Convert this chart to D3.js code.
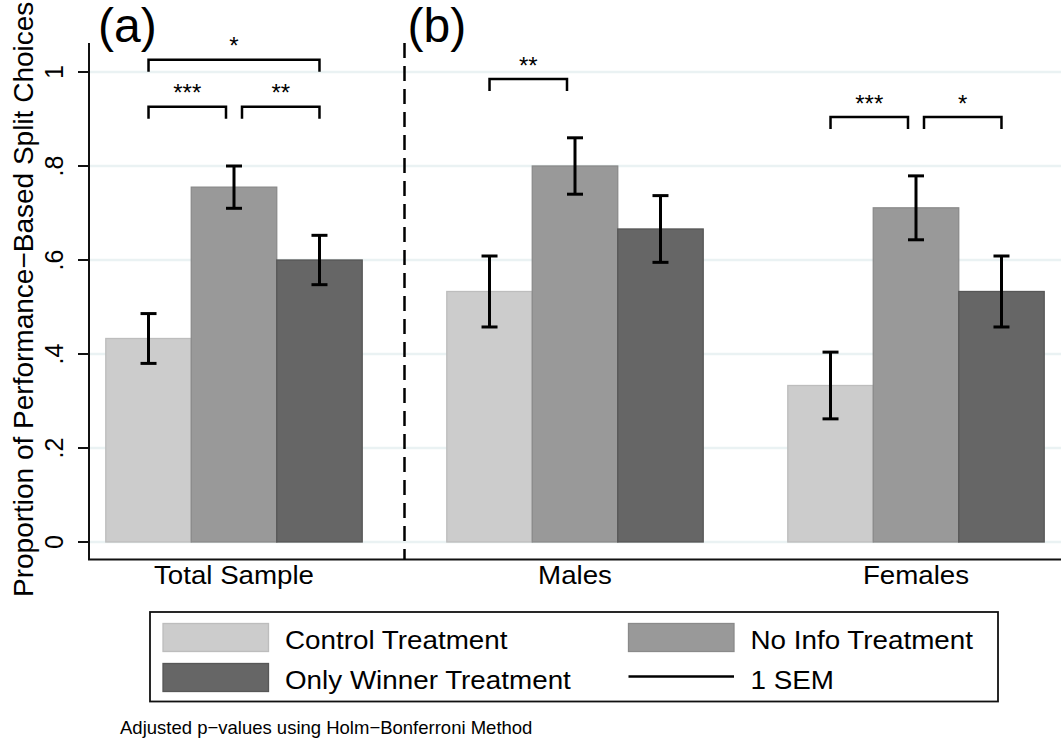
<!DOCTYPE html>
<html>
<head>
<meta charset="utf-8">
<script src="https://cdn.jsdelivr.net/npm/d3@7"></script>
<style>
  body { margin: 0; background: #fff; }
  text { font-family: "Liberation Sans", Arial, Helvetica, sans-serif; fill: #000; }
</style>
</head>
<body>
<div id="chart"></div>
<script>
// data
var groups = ["Total Sample", "Males", "Females"];
var series = ["Control Treatment", "No Info Treatment", "Only Winner Treatment"];
var control = [0.433, 0.533, 0.333];
var noInfo = [0.755, 0.800, 0.711];
var onlyWinner = [0.600, 0.666, 0.533];
var controlSem = [0.053, 0.0755, 0.071];
var noInfoSem = [0.045, 0.060, 0.068];
var onlyWinnerSem = [0.0525, 0.071, 0.0755];
var yTicks = [0, 0.2, 0.4, 0.6, 0.8, 1];
var yTickLabels = ["0", ".2", ".4", ".6", ".8", "1"];

// significance brackets (series index from -> to)
var bracketGroup = ["Total Sample", "Total Sample", "Total Sample", "Males", "Females", "Females"];
var bracketFrom = [0, 0, 1, 0, 0, 1];
var bracketTo = [2, 1, 2, 1, 1, 2];
var bracketLevel = [1.026, 0.926, 0.926, 0.985, 0.904, 0.904];
var bracketStars = ["*", "***", "**", "**", "***", "*"];

var fills = ["#cccccc", "#999999", "#666666"];
var strokes = ["#bdbdbd", "#8a8a8a", "#575757"];

var width = 1061, height = 744;
var values = [control, noInfo, onlyWinner];
var sems = [controlSem, noInfoSem, onlyWinnerSem];

var rows = [];
groups.forEach(function(g, gi) {
  series.forEach(function(s, si) {
    rows.push({group: g, series: s, si: si, value: values[si][gi], sem: sems[si][gi]});
  });
});

var svg = d3.select("#chart").append("svg")
    .attr("width", width)
    .attr("height", height);

svg.append("rect").attr("width", width).attr("height", height).attr("fill", "#fff");

var x0 = d3.scaleBand()
    .domain(groups)
    .range([63.5, 1086.5])
    .paddingInner(0.248)
    .paddingOuter(0.124);

var x1 = d3.scaleBand()
    .domain(series)
    .range([0, x0.bandwidth()]);

var y = d3.scaleLinear().domain([0, 1]).range([542, 72]);

var axisLeft = 89, plotTop = 43, plotBottom = 559.5, plotRight = 1061;

// gridlines
svg.append("g")
  .selectAll("line")
  .data(yTicks)
  .join("line")
    .attr("x1", axisLeft)
    .attr("x2", plotRight)
    .attr("y1", d => y(d))
    .attr("y2", d => y(d))
    .attr("stroke", "#eaf2f3")
    .attr("stroke-width", 2.5);

// bars
svg.append("g")
  .selectAll("rect")
  .data(rows)
  .join("rect")
    .attr("x", d => x0(d.group) + x1(d.series))
    .attr("y", d => y(d.value))
    .attr("width", x1.bandwidth())
    .attr("height", d => y(0) - y(d.value))
    .attr("fill", d => fills[d.si])
    .attr("stroke", d => strokes[d.si])
    .attr("stroke-width", 1.3);

// error bars
var cx = d => x0(d.group) + x1(d.series) + x1.bandwidth() / 2;
var err = svg.append("g").attr("stroke", "#000").attr("stroke-width", 3);
err.selectAll("line.v")
  .data(rows)
  .join("line")
    .attr("class", "v")
    .attr("x1", cx).attr("x2", cx)
    .attr("y1", d => y(d.value + d.sem))
    .attr("y2", d => y(d.value - d.sem));
err.selectAll("line.top")
  .data(rows)
  .join("line")
    .attr("class", "top")
    .attr("x1", d => cx(d) - 8).attr("x2", d => cx(d) + 8)
    .attr("y1", d => y(d.value + d.sem))
    .attr("y2", d => y(d.value + d.sem));
err.selectAll("line.bot")
  .data(rows)
  .join("line")
    .attr("class", "bot")
    .attr("x1", d => cx(d) - 8).attr("x2", d => cx(d) + 8)
    .attr("y1", d => y(d.value - d.sem))
    .attr("y2", d => y(d.value - d.sem));

// axes
svg.append("line")
    .attr("x1", axisLeft).attr("x2", axisLeft)
    .attr("y1", plotTop).attr("y2", plotBottom)
    .attr("stroke", "#111").attr("stroke-width", 2);
svg.append("line")
    .attr("x1", axisLeft - 1).attr("x2", plotRight)
    .attr("y1", plotBottom).attr("y2", plotBottom)
    .attr("stroke", "#111").attr("stroke-width", 2);

svg.append("g")
  .selectAll("line")
  .data(yTicks)
  .join("line")
    .attr("x1", axisLeft - 11).attr("x2", axisLeft)
    .attr("y1", d => y(d)).attr("y2", d => y(d))
    .attr("stroke", "#111").attr("stroke-width", 2);

svg.append("g")
  .selectAll("text")
  .data(yTicks)
  .join("text")
    .attr("transform", d => "translate(63," + y(d) + ") rotate(-90)")
    .attr("text-anchor", "middle")
    .style("font-size", "25px")
    .text((d, i) => yTickLabels[i]);

svg.append("text")
    .attr("transform", "translate(33,597) rotate(-90)")
    .style("font-size", "28px")
    .text("Proportion of Performance\u2212Based Split Choices");

// category labels
svg.append("g")
  .selectAll("text")
  .data(groups)
  .join("text")
    .attr("transform", d => "translate(" + (x0(d) + x0.bandwidth() / 2) + ",584) scale(1.065,1)")
    .attr("text-anchor", "middle")
    .style("font-size", "26px")
    .text(d => d);

// dashed divider between panels
var divX = (x0(groups[0]) + x0.bandwidth() + x0(groups[1])) / 2;
svg.append("line")
    .attr("x1", divX).attr("x2", divX)
    .attr("y1", plotTop).attr("y2", plotBottom)
    .attr("stroke", "#000")
    .attr("stroke-width", 2.5)
    .attr("stroke-dasharray", "15,8");

// panel labels
svg.append("text").attr("x", 98).attr("y", 42).style("font-size", "48px").text("(a)");
svg.append("text").attr("x", divX + 3).attr("y", 42).style("font-size", "48px").text("(b)");

// significance brackets
var bx = function(g, si, other) {
  var c = x0(g) + x1(series[si]) + x1.bandwidth() / 2;
  if (si === 1) c += other > si ? 8 : -8;
  return c;
};
var br = svg.append("g");
bracketGroup.forEach(function(g, i) {
  var xa = bx(g, bracketFrom[i], bracketTo[i]);
  var xb = bx(g, bracketTo[i], bracketFrom[i]);
  var yl = y(bracketLevel[i]);
  br.append("path")
      .attr("d", "M" + xa + "," + (yl + 12) + "V" + yl + "H" + xb + "V" + (yl + 12))
      .attr("fill", "none")
      .attr("stroke", "#000")
      .attr("stroke-width", 2.5);
  br.append("text")
      .attr("x", (xa + xb) / 2)
      .attr("y", yl - 19.5 + 14)
      .attr("text-anchor", "middle")
      .style("font-size", "24px")
      .text(bracketStars[i]);
});

// legend
var legend = svg.append("g");
legend.append("rect")
    .attr("x", 150).attr("y", 612)
    .attr("width", 848).attr("height", 89.5)
    .attr("fill", "#fff")
    .attr("stroke", "#111")
    .attr("stroke-width", 1.8);

var legendItems = [
  {label: series[0], si: 0, col: 0, row: 0},
  {label: series[1], si: 1, col: 1, row: 0},
  {label: series[2], si: 2, col: 0, row: 1},
  {label: "1 SEM", si: -1, col: 1, row: 1}
];
var colX = [163, 628.5], rowY = [623.5, 663.5];
legendItems.forEach(function(d) {
  var lx = colX[d.col], ly = rowY[d.row];
  if (d.si >= 0) {
    legend.append("rect")
        .attr("x", lx).attr("y", ly)
        .attr("width", 105.5).attr("height", 28)
        .attr("fill", fills[d.si])
        .attr("stroke", strokes[d.si])
        .attr("stroke-width", 1.3);
  } else {
    legend.append("line")
        .attr("x1", lx).attr("x2", lx + 105.5)
        .attr("y1", ly + 13).attr("y2", ly + 13)
        .attr("stroke", "#000").attr("stroke-width", 2.5);
  }
  legend.append("text")
      .attr("transform", "translate(" + (lx + 122) + "," + (ly + 25) + ") scale(1.07,1)")
      .style("font-size", "26px")
      .text(d.label);
});

svg.append("text")
    .attr("x", 120).attr("y", 734)
    .style("font-size", "18.5px")
    .text("Adjusted p\u2212values using Holm\u2212Bonferroni Method");
</script>
</body>
</html>
